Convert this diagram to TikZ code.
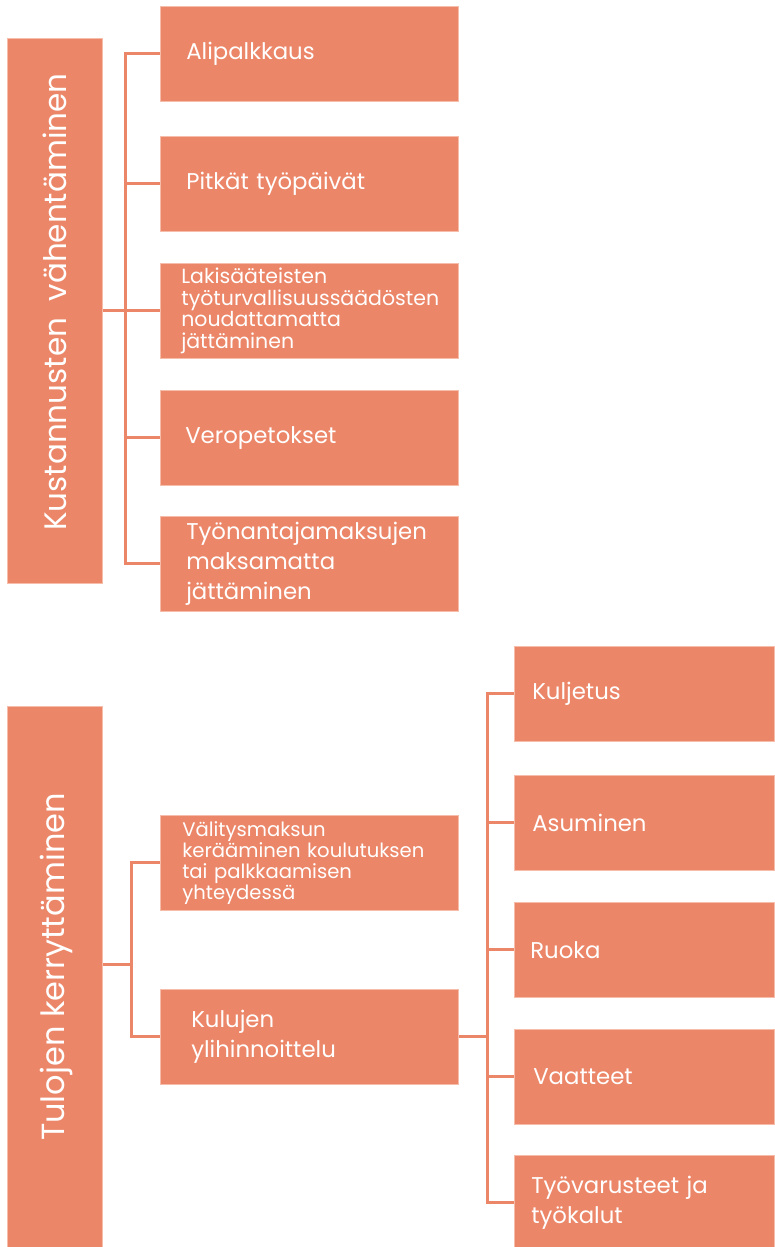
\documentclass[tikz,border=0pt]{standalone}
\usepackage{fontspec}
\setmainfont{Poppins}
\hyphenpenalty=10000
\exhyphenpenalty=10000
\definecolor{boxc}{RGB}{236,134,104}
\definecolor{edgec}{RGB}{246,190,170}
\begin{document}
\begin{tikzpicture}[x=1pt,y=-1pt,
  box/.style={fill=boxc, draw=edgec, line width=0.6pt, text=white, align=left,
    inner ysep=0pt, anchor=north west, minimum height=95pt},
  big/.style={font=\fontsize{22.8}{30}\selectfont},
  small/.style={font=\fontsize{20.5}{21.5}\selectfont},
  smaller/.style={font=\fontsize{19.6}{21}\selectfont},
  conn/.style={draw=boxc, line width=3pt},
  side/.style={fill=boxc, draw=edgec, line width=0.6pt, anchor=north west,
    minimum width=95pt, inner sep=0pt},
  sidetext/.style={text=white, rotate=90, font=\fontsize{32}{38}\selectfont}]
\useasboundingbox (0,0) rectangle (774,1247);
\fill[white] (0,0) rectangle (774,1247);

% top group
\node[side, minimum height=545pt] (K) at (7,38) {};
\node[sidetext, font=\fontsize{31}{37}\selectfont] (Kt) at (55,302) {Kustannusten\ \ vähentäminen};
\node[box, big, inner xsep=26pt, text width=246pt] (a1) at (160,6) {Alipalkkaus};
\node[box, big, inner xsep=26pt, text width=246pt] (a2) at (160,136) {Pitkät työpäivät};
\node[box, small, inner xsep=21pt, text width=256pt] (a3) at (160,263)
  {Lakisääteisten\\työturvallisuussäädösten\\noudattamatta\\jättäminen};
\node[box, big, inner xsep=25pt, text width=248pt] (a4) at (160,390) {Veropetokset};
\node[box, big, inner xsep=26pt, text width=246pt] (a5) at (160,516)
  {Työnantajamaksujen\\maksamatta\\jättäminen};

\coordinate (sp1) at (125,0);
\draw[conn] (a1.west) -| (sp1 |- a5.west) -- (a5.west);
\foreach \n in {a2,a3,a4} \draw[conn] (\n.west) -- (\n.west -| sp1);
\draw[conn] (K.east |- a3.west) -- (a3.west -| sp1);

% bottom group
\node[side, minimum height=541pt] (T) at (7,706) {};
\node[sidetext] (Tt) at (56,967) {Tulojen kerryttäminen};
\node[box, smaller, inner xsep=22pt, text width=254pt] (v) at (160,815)
  {Välitysmaksun\\kerääminen koulutuksen\\tai palkkaamisen\\yhteydessä};
\node[box, big, inner xsep=31pt, text width=236pt] (ku) at (160,989)
  {Kulujen\\ylihinnoittelu};

\node[box, big, inner xsep=18pt, text width=224pt] (r1) at (514,646) {Kuljetus};
\node[box, big, inner xsep=18pt, text width=224pt] (r2) at (514,775) {Asuminen};
\node[box, big, inner xsep=16pt, text width=228pt] (r3) at (514,902) {Ruoka};
\node[box, big, inner xsep=19pt, text width=222pt] (r4) at (514,1029) {Vaatteet};
\node[box, big, inner xsep=17pt, text width=226pt] (r5) at (514,1155)
  {Työvarusteet ja\\työkalut};

\coordinate (sp2) at (131,0);
\coordinate (tjy) at (0,964);
\draw[conn] (v.west) -| (sp2 |- ku.west) -- (ku.west);
\draw[conn] (T.east |- tjy) -- (sp2 |- tjy);

\coordinate (sp3) at (487,0);
\draw[conn] (r1.west) -| (sp3 |- r5.west) -- (r5.west);
\foreach \n in {r2,r3,r4} \draw[conn] (\n.west) -- (\n.west -| sp3);
\draw[conn] (ku.east) -- (ku.east -| sp3);
\end{tikzpicture}
\end{document}
